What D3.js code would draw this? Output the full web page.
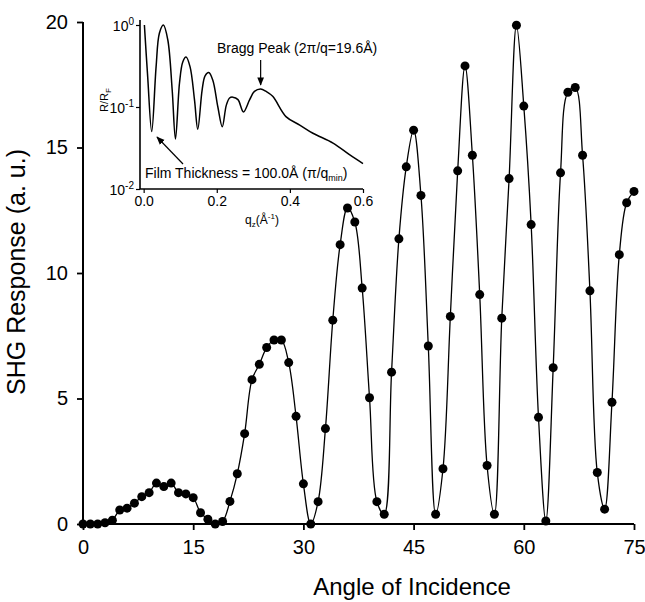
<!DOCTYPE html>
<html><head><meta charset="utf-8">
<script src="https://cdn.jsdelivr.net/npm/d3@7"></script>
<style>body{margin:0;background:#fff}svg{display:block}text{font-family:"Liberation Sans",Arial,sans-serif;fill:#000}</style>
</head><body>
<svg id="c" width="645" height="602"></svg>
<script>
// Main chart data: angle of incidence (deg) vs SHG response (a.u.)
const angles = d3.range(0, 76);
const shg = [0,0,0,0.05,0.15,0.56,0.63,0.83,1.09,1.25,1.63,1.49,1.63,1.25,1.2,1.05,0.45,0.19,0.0,0.1,
  0.9,2.0,3.6,5.75,6.36,7.03,7.33,7.33,6.43,4.29,1.6,0.0,0.89,3.8,8.12,11.13,12.59,12.03,9.4,5.03,
  0.89,0.39,6.05,11.36,14.23,15.69,13.09,7.09,0.39,2.2,8.27,14.07,18.25,14.69,9.14,2.33,0.39,8.2,13.76,19.87,
  16.65,11.93,4.25,0.12,6.23,13.99,17.2,17.39,14.69,9.29,2.05,0.59,4.85,10.73,12.8,13.25];
const xTicks = [0,15,30,45,60,75];
const yTicks = [0,5,10,15,20];

// Inset data: q_z (1/Å) vs R/R_F
const qz = [0.002,0.011,0.022,0.034,0.043,0.054,0.066,0.078,0.087,0.098,0.107,0.116,0.127,0.139,0.148,0.160,0.168,0.178,
  0.189,0.203,0.215,0.226,0.235,0.244,0.258,0.273,0.290,0.303,0.320,0.335,0.353,0.390,0.427,0.463,0.518,0.564,0.600];
const logR = [0.0,-0.63,-1.30,-0.51,-0.10,0.0,-0.18,-0.79,-1.39,-0.71,-0.45,-0.39,-0.51,-0.91,-1.27,-0.79,-0.62,-0.58,
  -0.67,-1.0,-1.24,-0.98,-0.89,-0.88,-0.91,-1.06,-0.91,-0.81,-0.78,-0.81,-0.87,-1.12,-1.22,-1.32,-1.44,-1.585,-1.69];
const insetXTicks = [0.0,0.2,0.4,0.6];
const insetYTicks = [0.01,0.1,1];

const svg = d3.select("#c");
const x = d3.scaleLinear().domain([0,75]).range([83,634]);
const y = d3.scaleLinear().domain([0,20]).range([524,22]);

// Axes
const xAxis = d3.axisBottom(x).tickValues(xTicks).tickSize(6).tickPadding(10).tickFormat(d3.format("d"));
const yAxis = d3.axisLeft(y).tickValues(yTicks).tickSize(6).tickPadding(9).tickFormat(d3.format("d"));
const gx = svg.append("g").attr("transform","translate(0,524)").call(xAxis);
const gy = svg.append("g").attr("transform","translate(83,0)").call(yAxis);
[gx,gy].forEach(g=>{
  g.select(".domain").attr("stroke","#000").attr("stroke-width",2);
  g.selectAll(".tick line").attr("stroke","#000").attr("stroke-width",1.8);
  g.selectAll(".tick text").attr("font-size",20).attr("font-family","Liberation Sans, Arial, sans-serif").attr("fill","#000");
});
gx.select(".domain").attr("d","M83,0H634");
gy.select(".domain").attr("d","M0,22V524");

svg.append("text").attr("x",412).attr("y",595).attr("text-anchor","middle").attr("font-size",24).text("Angle of Incidence");
svg.append("text").attr("transform","translate(25,272) rotate(-90)").attr("text-anchor","middle").attr("font-size",25).text("SHG Response (a. u.)");

// Main curve
const pts = angles.map((a,i)=>[a, shg[i]]);
const line = d3.line().x(d=>x(d[0])).y(d=>y(d[1])).curve(d3.curveCatmullRom.alpha(0.5));
svg.append("path").attr("d", line(pts)).attr("fill","none").attr("stroke","#000").attr("stroke-width",1.3);
svg.append("g").selectAll("circle").data(pts).join("circle")
  .attr("cx",d=>x(d[0])).attr("cy",d=>y(d[1])).attr("r",4.5).attr("fill","#000");

// Inset
const xi = d3.scaleLinear().domain([-0.01,0.6]).range([140,363]);
const yi = d3.scaleLog().domain([0.01,1]).range([189,25]);
const gix = svg.append("g").attr("transform","translate(0,189)")
  .call(d3.axisBottom(xi).tickValues(insetXTicks).tickSize(4).tickPadding(3).tickFormat(d3.format(".1f")));
const giy = svg.append("g").attr("transform","translate(140,0)")
  .call(d3.axisLeft(yi).tickValues(insetYTicks).tickSize(4).tickPadding(3).tickFormat(()=>""));
[gix,giy].forEach(g=>{
  g.select(".domain").attr("stroke","#000").attr("stroke-width",1.6);
  g.selectAll(".tick line").attr("stroke","#000").attr("stroke-width",1.2);
  g.selectAll(".tick text").attr("font-size",14).attr("font-family","Liberation Sans, Arial, sans-serif").attr("fill","#000");
});
gix.select(".domain").attr("d","M140,0H363");
giy.select(".domain").attr("d","M0,20V189");
giy.selectAll(".tick").each(function(d){
  const t = d3.select(this).append("text").attr("x",-6).attr("y",5).attr("text-anchor","end").attr("font-size",14);
  t.append("tspan").text("10");
  t.append("tspan").attr("dy",-6).attr("font-size",10).text(String(Math.round(Math.log10(d))));
});
// inset axis titles
const qt = svg.append("text").attr("x",262).attr("y",224).attr("text-anchor","middle").attr("font-size",12);
qt.append("tspan").text("q");
qt.append("tspan").attr("dy",3).attr("font-size",8).text("z");
qt.append("tspan").attr("dy",-3).text("(Å");
qt.append("tspan").attr("dy",-5).attr("font-size",8).text("-1");
qt.append("tspan").attr("dy",5).text(")");
const rt = svg.append("text").attr("transform","translate(108,100) rotate(-90)").attr("text-anchor","middle").attr("font-size",11);
rt.append("tspan").text("R/R");
rt.append("tspan").attr("dy",3).attr("font-size",8).text("F");

const ipts = qz.map((q,i)=>[q, Math.pow(10, logR[i])]);
const iline = d3.line().x(d=>xi(d[0])).y(d=>yi(d[1])).curve(d3.curveCatmullRom.alpha(0.5));
svg.append("path").attr("d", iline(ipts)).attr("fill","none").attr("stroke","#000").attr("stroke-width",1.5);

// annotations
const defs = svg.append("defs");
defs.append("marker").attr("id","ah").attr("viewBox","0 0 10 10").attr("refX",9).attr("refY",5)
  .attr("markerWidth",7).attr("markerHeight",7).attr("orient","auto-start-reverse")
  .append("path").attr("d","M0,1L10,5L0,9Z").attr("fill","#000");
svg.append("text").attr("x",217).attr("y",53).attr("font-size",14).text("Bragg Peak (2π/q=19.6Å)");
svg.append("line").attr("x1",xi(0.32)).attr("y1",60).attr("x2",xi(0.32)).attr("y2",85)
  .attr("stroke","#000").attr("stroke-width",1.2).attr("marker-end","url(#ah)");
const ft = svg.append("text").attr("x",145).attr("y",178).attr("font-size",14);
ft.append("tspan").text("Film Thickness = 100.0Å (π/q");
ft.append("tspan").attr("dy",3).attr("font-size",9).text("min");
ft.append("tspan").attr("dy",-3).text(")");
svg.append("line").attr("x1",183).attr("y1",164).attr("x2",157).attr("y2",137)
  .attr("stroke","#000").attr("stroke-width",1.2).attr("marker-end","url(#ah)");
</script>
</body></html>
